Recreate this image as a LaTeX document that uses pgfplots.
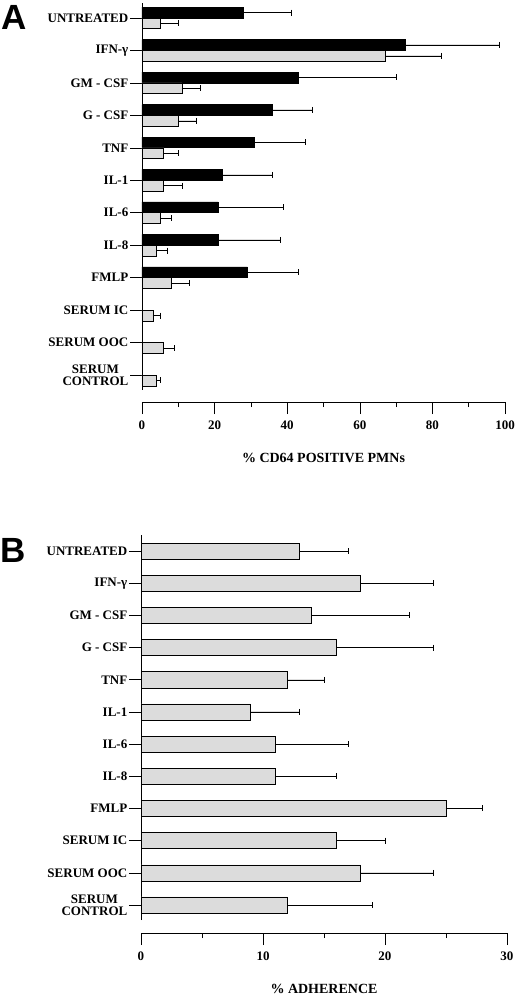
\documentclass[border=0pt]{standalone}
\usepackage{pgfplots}
\pgfplotsset{compat=1.18}
\usepackage{pgfplotstable}
\usepackage{fontspec}
\setmainfont{Liberation Serif}
\newfontfamily\panelfont{Liberation Sans}
\definecolor{lightbar}{HTML}{DCDCDC}

% panel A: y = category index (0 = SERUM CONTROL, 11 = UNTREATED),
% black bars sit above the tick, grey ones below it
\pgfplotstableread{
y      v     e
11.167 28    13
10.167 72.5  26
9.167  43    27
8.167  36    11
7.167  31    14
6.167  22    14
5.167  21    18
4.167  21    17
3.167  29    14
}\tableAblack
\pgfplotstableread{
y      v   e
10.833 5   5
9.833  67  15.5
8.833  11  5
7.833  10  5
6.833  6   4
5.833  6   5
4.833  5   3
3.833  4   3
2.833  8   5
1.833  3   2
0.833  6   3
-0.167 4   1
}\tableAgray
\pgfplotstableread{
y  v   e
11 13  4
10 18  6
9  14  8
8  16  8
7  12  3
6  9   4
5  11  6
4  11  5
3  25  3
2  16  4
1  18  6
0  12  7
}\tableB

\pgfplotsset{
  panel/.style={
    scale only axis,
    anchor=south west,
    axis x line*=bottom,
    axis y line*=left,
    y axis line style={draw=none},
    tick align=outside,
    major tick length=12pt,
    minor tick length=5pt,
    minor x tick num=1,
    every tick/.style={black,line width=0.6pt},
    axis line style={line width=0.7pt},
    ytick={0,...,11},
    yticklabels={{SERUM\\CONTROL},SERUM OOC,SERUM IC,FMLP,IL-8,IL-6,IL-1,TNF,G - CSF,GM - CSF,IFN-γ,UNTREATED},
    yticklabel style={font=\fontsize{13}{12}\selectfont\bfseries,align=center,inner sep=1.5pt},
    xticklabel style={font=\fontsize{13}{13}\selectfont\bfseries,yshift=-3pt},
    /pgf/number format/assume math mode=true,
    xlabel style={font=\fontsize{14}{14}\selectfont\bfseries,yshift=-17pt},
    xmin=0,
  },
  errs/.style={
    error bars/.cd, x dir=plus, x explicit,
    error bar style={line width=0.5pt,black},
    error mark=|,
    error mark options={line width=0.6pt,mark size=3pt,black},
  },
}

\begin{document}
\begin{tikzpicture}
\path[use as bounding box] (0,0) rectangle (520pt,-997pt);
\node[font=\panelfont\bfseries\fontsize{35}{35}\selectfont,inner sep=0pt] at (14pt,-17pt) {A};
\node[font=\panelfont\bfseries\fontsize{35}{35}\selectfont,inner sep=0pt] at (13pt,-550pt) {B};

\begin{axis}[panel,
  at={(142pt,-402pt)}, width=363pt, height=399pt,
  xmax=100, ymin=-0.83, ymax=11.46,
  xtick={0,20,...,100},
  xlabel={\% CD64 POSITIVE PMNs},
  bar width=0.33,
]
\draw[line width=0.7pt] (axis cs:0,-0.46) -- (axis cs:0,11.46);
\addplot[xbar, bar shift=0, fill=black, draw=black, line width=0.6pt, errs]
  table[x=v, y=y, x error=e] {\tableAblack};
\addplot[xbar, bar shift=0, fill=lightbar, draw=black, line width=0.6pt, errs]
  table[x=v, y=y, x error=e] {\tableAgray};
\end{axis}

\begin{axis}[panel,
  at={(141pt,-933pt)}, width=366pt, height=398pt,
  xmax=30, ymin=-0.87, ymax=11.5,
  xtick={0,10,20,30},
  xlabel={\% ADHERENCE},
  bar width=0.5,
]
\draw[line width=0.7pt] (axis cs:0,-0.47) -- (axis cs:0,11.5);
\addplot[xbar, bar shift=0, fill=lightbar, draw=black, line width=0.6pt, errs]
  table[x=v, y=y, x error=e] {\tableB};
\end{axis}
\end{tikzpicture}
\end{document}
